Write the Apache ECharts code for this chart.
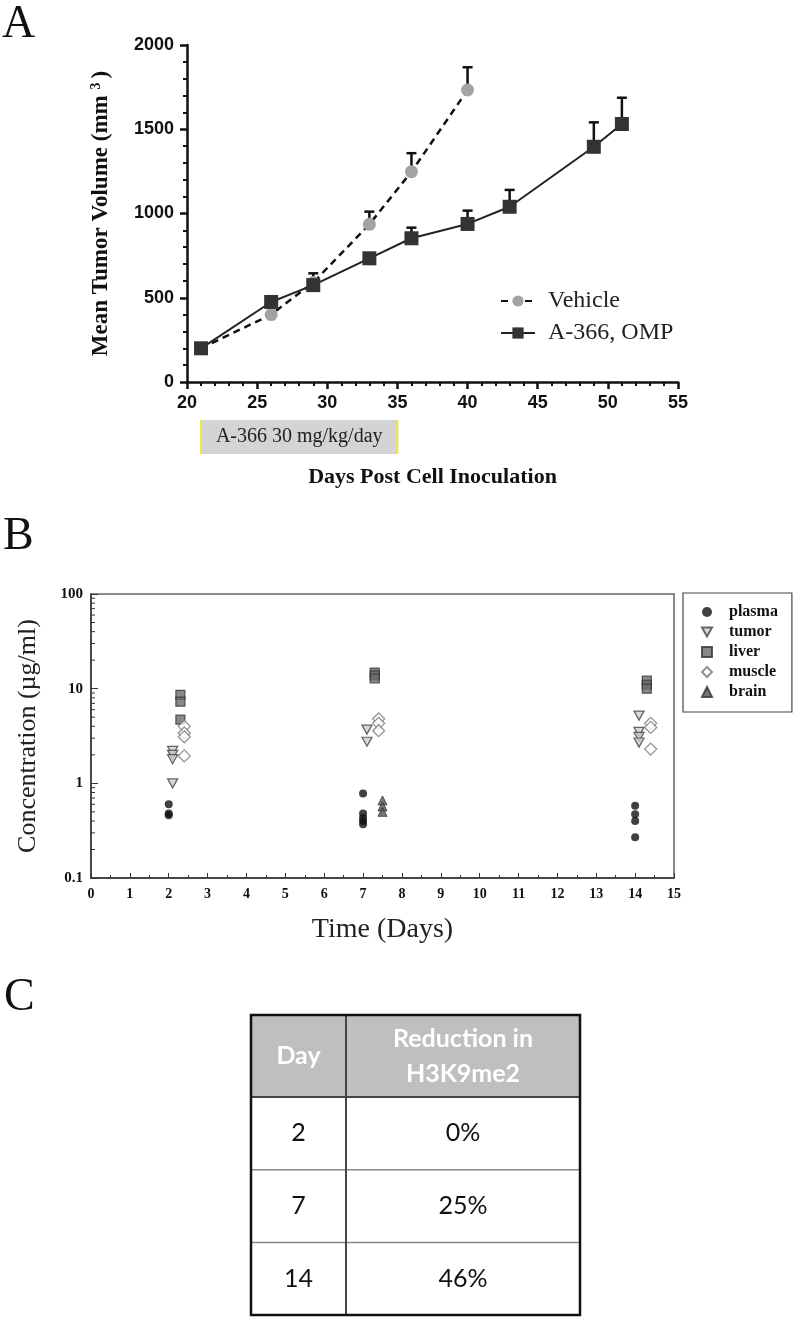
<!DOCTYPE html>
<html><head><meta charset="utf-8">
<script src="https://cdn.jsdelivr.net/npm/echarts@6/dist/echarts.min.js"></script>
<style>html,body{margin:0;padding:0;background:#fff}#c{width:798px;height:1321px}</style>
</head><body><div id="c"></div>
<script>
// ---------- Panel A data ----------
const daysVehicle = [21, 26, 29, 33, 36, 40];
const vehicleMean = [200, 400, 590, 936, 1248, 1733];
const vehicleErr  = [0, 0, 55, 75, 110, 135];
const daysA366 = [21, 26, 29, 33, 36, 40, 43, 49, 51];
const a366Mean = [200, 475, 575, 734, 853, 938, 1040, 1396, 1531];
const a366Err  = [0, 0, 0, 20, 63, 79, 100, 145, 156];
const seriesNamesA = ['Vehicle', 'A-366, OMP'];
const treatmentLabel = 'A-366 30 mg/kg/day';
const treatmentDays = [21, 35];

// ---------- Panel B data ----------
const tissueNames = ['plasma', 'tumor', 'liver', 'muscle', 'brain'];
const plasma = [[2,0.60],[2,0.48],[2,0.46],[7,0.78],[7,0.48],[7,0.43],[7,0.40],[7,0.37],[14,0.58],[14,0.47],[14,0.40],[14,0.27]];
const tumor  = [[2.1,2.2],[2.1,2.0],[2.1,1.8],[2.1,1.0],[7.1,3.7],[7.1,2.75],[14.1,5.2],[14.1,3.5],[14.1,3.1],[14.1,2.7]];
const liver  = [[2.3,8.6],[2.3,7.3],[2.3,4.7],[7.3,14.8],[7.3,13.8],[7.3,12.8],[14.3,12.2],[14.3,11.0],[14.3,10.0]];
const muscle = [[2.4,4.0],[2.4,3.4],[2.4,3.1],[2.4,1.95],[7.4,4.8],[7.4,4.3],[7.4,3.6],[14.4,4.3],[14.4,3.9],[14.4,2.3]];
const brain  = [[7.5,0.66],[7.5,0.57],[7.5,0.50]];
const logMinorTicks = [0.2,0.3,0.4,0.5,0.6,0.7,0.8,0.9,2,3,4,5,6,7,8,9,20,30,40,50,60,70,80,90];

// ---------- Panel C data ----------
const tableHeader = ['Day', 'Reduction in\nH3K9me2'];
const tableDays = ['2', '7', '14'];
const tableReduction = ['0%', '25%', '46%'];

const serif = '"Liberation Serif", "Times New Roman", serif';
const sans = '"Liberation Sans", Arial, sans-serif';
const invTriangle = 'path://M0,0 L10,0 L5,9 Z';

const chart = echarts.init(document.getElementById('c'), null, {renderer: 'canvas'});

function errRender(params, api) {
  const x = api.value(0), y = api.value(1), e = api.value(2);
  if (!e) return null;
  const p0 = api.coord([x, y]);
  const p1 = api.coord([x, y + e]);
  return {type: 'group', children: [
    {type: 'line', shape: {x1: p0[0], y1: p0[1], x2: p1[0], y2: p1[1]}, style: {stroke: '#111', lineWidth: 2.5}},
    {type: 'line', shape: {x1: p1[0]-5, y1: p1[1], x2: p1[0]+5, y2: p1[1]}, style: {stroke: '#111', lineWidth: 2.5}}
  ]};
}

function minorRender(params, api) {
  const p = api.coord([0, api.value(1)]);
  return {type: 'line', shape: {x1: p[0], y1: p[1], x2: p[0]+4, y2: p[1]}, style: {stroke: '#333', lineWidth: 1}};
}

const option = {
  animation: false,
  backgroundColor: '#fff',
  grid: [
    {left: 187, top: 45, width: 491, height: 337},
    {left: 91, top: 594, width: 583, height: 284, show: true, borderColor: '#666', borderWidth: 1.5}
  ],
  xAxis: [
    {gridIndex: 0, type: 'value', min: 20, max: 55, interval: 5,
     name: 'Days Post Cell Inoculation', nameLocation: 'middle', nameGap: 84,
     nameTextStyle: {fontFamily: serif, fontWeight: 'bold', fontSize: 22, color: '#111'},
     axisLine: {lineStyle: {color: '#111', width: 2.5}},
     axisTick: {length: 7, lineStyle: {color: '#111', width: 2.5}},
     minorTick: {show: true, splitNumber: 5, length: 4, lineStyle: {color: '#111', width: 2}},
     splitLine: {show: false},
     axisLabel: {fontFamily: sans, fontWeight: 'bold', fontSize: 18, color: '#111', margin: 12}},
    {gridIndex: 1, type: 'value', min: 0, max: 15, interval: 1,
     name: 'Time (Days)', nameLocation: 'middle', nameGap: 38,
     nameTextStyle: {fontFamily: serif, fontSize: 28, color: '#222'},
     axisLine: {lineStyle: {color: '#333', width: 1.5}},
     axisTick: {inside: true, length: 5, lineStyle: {color: '#333', width: 1}},
     minorTick: {show: true, splitNumber: 2, length: 3, lineStyle: {color: '#333', width: 1}},
     splitLine: {show: false},
     axisLabel: {fontFamily: serif, fontWeight: 'bold', fontSize: 14, color: '#111', margin: 9}}
  ],
  yAxis: [
    {gridIndex: 0, type: 'value', min: 0, max: 2000, interval: 500,
     name: '{a|Mean Tumor Volume (mm }{s|3}{a|)}', nameLocation: 'middle', nameGap: 74,
     nameTextStyle: {rich: {
       a: {fontFamily: serif, fontWeight: 'bold', fontSize: 23, color: '#111'},
       s: {fontFamily: serif, fontWeight: 'bold', fontSize: 14, color: '#111', verticalAlign: 'top', padding: [0, 4, 10, 0]}
     }},
     axisLine: {show: true, lineStyle: {color: '#111', width: 2.5}},
     axisTick: {show: true, length: 7, lineStyle: {color: '#111', width: 2.5}},
     minorTick: {show: true, splitNumber: 5, length: 4, lineStyle: {color: '#111', width: 2}},
     splitLine: {show: false},
     axisLabel: {fontFamily: sans, fontWeight: 'bold', fontSize: 18, color: '#111', margin: 13,
       formatter: v => String(v)}},
    {gridIndex: 1, type: 'log', logBase: 10, min: 0.1, max: 100,
     name: 'Concentration (µg/ml)', nameLocation: 'middle', nameGap: 50,
     nameTextStyle: {fontFamily: serif, fontSize: 26, color: '#222'},
     axisLine: {show: true, lineStyle: {color: '#333', width: 1.5}},
     axisTick: {show: true, inside: true, length: 7, lineStyle: {color: '#333', width: 1}},
     splitLine: {show: false},
     axisLabel: {fontFamily: serif, fontWeight: 'bold', fontSize: 15, color: '#111', margin: 8,
       formatter: v => String(+v.toPrecision(3))}}
  ],
  legend: [
    {data: seriesNamesA, orient: 'vertical', left: 495, top: 284, itemWidth: 34, itemHeight: 14, itemGap: 8,
     textStyle: {fontFamily: serif, fontSize: 24, color: '#222', padding: [0, 0, 0, 8]}},
    {data: tissueNames, orient: 'vertical', left: 683, top: 593, itemWidth: 10, itemHeight: 10, itemGap: 4,
     padding: [11, 14, 12, 18], borderColor: '#444', borderWidth: 1.2,
     textStyle: {fontFamily: serif, fontWeight: 'bold', fontSize: 16, color: '#111', padding: [0, 0, 0, 12]}}
  ],
  series: [
    {type: 'custom', name: 'errV', xAxisIndex: 0, yAxisIndex: 0, z: 1, renderItem: errRender,
     encode: {x: 0, y: 1}, data: daysVehicle.map((d, i) => [d, vehicleMean[i], vehicleErr[i]])},
    {type: 'custom', name: 'errA', xAxisIndex: 0, yAxisIndex: 0, z: 1, renderItem: errRender,
     encode: {x: 0, y: 1}, data: daysA366.map((d, i) => [d, a366Mean[i], a366Err[i]])},
    {type: 'line', name: seriesNamesA[0], xAxisIndex: 0, yAxisIndex: 0, z: 3,
     data: daysVehicle.map((d, i) => [d, vehicleMean[i]]),
     symbol: 'circle', symbolSize: 13, itemStyle: {color: '#a3a3a3'},
     lineStyle: {color: '#111', width: 2.5, type: [7, 5]}},
    {type: 'line', name: seriesNamesA[1], xAxisIndex: 0, yAxisIndex: 0, z: 4,
     data: daysA366.map((d, i) => [d, a366Mean[i]]),
     symbol: 'rect', symbolSize: 14, itemStyle: {color: '#333'},
     lineStyle: {color: '#222', width: 2}},
    {type: 'custom', name: 'minorTicksB', xAxisIndex: 1, yAxisIndex: 1, renderItem: minorRender,
     encode: {x: 0, y: 1}, data: logMinorTicks.map(v => [0, v]), silent: true},
    {type: 'scatter', name: 'plasma', xAxisIndex: 1, yAxisIndex: 1, data: plasma,
     symbol: 'circle', symbolSize: 8, itemStyle: {color: '#111'}},
    {type: 'scatter', name: 'tumor', xAxisIndex: 1, yAxisIndex: 1, data: tumor,
     symbol: invTriangle, symbolSize: [10, 9], itemStyle: {color: '#cfcfcf', borderColor: '#444', borderWidth: 1.3}},
    {type: 'scatter', name: 'liver', xAxisIndex: 1, yAxisIndex: 1, data: liver,
     symbol: 'rect', symbolSize: 9, itemStyle: {color: '#6c6c6c', borderColor: '#333', borderWidth: 1.2}},
    {type: 'scatter', name: 'muscle', xAxisIndex: 1, yAxisIndex: 1, data: muscle,
     symbol: 'diamond', symbolSize: 12, itemStyle: {color: '#fff', borderColor: '#777', borderWidth: 1.3}},
    {type: 'scatter', name: 'brain', xAxisIndex: 1, yAxisIndex: 1, data: brain,
     symbol: 'triangle', symbolSize: 9, itemStyle: {color: '#555', borderColor: '#333', borderWidth: 1}}
  ]
};
chart.setOption(option);

// ---------- graphics: panel letters, treatment bar, table ----------
const g = [];
const letter = (t, x, y) => ({type: 'text', left: x, top: y, style: {text: t, fontFamily: serif, fontSize: 46, fill: '#111'}});
g.push(letter('A', 2, 2), letter('B', 3, 514), letter('C', 4, 975));

const bx0 = chart.convertToPixel({xAxisIndex: 0}, treatmentDays[0]);
const bx1 = chart.convertToPixel({xAxisIndex: 0}, treatmentDays[1]);
g.push({type: 'rect', shape: {x: bx0, y: 420, width: bx1 - bx0, height: 34}, style: {fill: '#d4d4d4'}});
g.push({type: 'line', shape: {x1: bx0, y1: 420, x2: bx0, y2: 454}, style: {stroke: '#f2ea3a', lineWidth: 2}});
g.push({type: 'line', shape: {x1: bx1, y1: 420, x2: bx1, y2: 454}, style: {stroke: '#f2ea3a', lineWidth: 2}});
g.push({type: 'text', x: (bx0 + bx1) / 2, y: 437, style: {text: treatmentLabel, fontFamily: serif, fontSize: 20, fill: '#222', align: 'center', verticalAlign: 'middle'}});

// table
const tL = 251, tR = 580, tC = 346, tTop = 1015, hBot = 1097, rowH = 72.7;
const tBot = hBot + rowH * tableDays.length;
const tf = '"Lato", "Open Sans", sans-serif';
g.push({type: 'rect', shape: {x: tL, y: tTop, width: tR - tL, height: hBot - tTop}, style: {fill: '#bfbfbf'}});
g.push({type: 'text', x: (tL + tC) / 2, y: (tTop + hBot) / 2, style: {text: tableHeader[0], fontFamily: tf, fontWeight: 'bold', fontSize: 25, fill: '#fff', align: 'center', verticalAlign: 'middle'}});
g.push({type: 'text', x: (tC + tR) / 2, y: (tTop + hBot) / 2, style: {text: tableHeader[1], fontFamily: tf, fontWeight: 'bold', fontSize: 25, lineHeight: 35, fill: '#fff', align: 'center', verticalAlign: 'middle'}});
tableDays.forEach((d, i) => {
  const cy = hBot + rowH * (i + 0.5);
  g.push({type: 'text', x: (tL + tC) / 2, y: cy, style: {text: d, fontFamily: tf, fontSize: 25, fill: '#111', align: 'center', verticalAlign: 'middle'}});
  g.push({type: 'text', x: (tC + tR) / 2, y: cy, style: {text: tableReduction[i], fontFamily: tf, fontSize: 25, fill: '#111', align: 'center', verticalAlign: 'middle'}});
  if (i > 0) {
    const ly = hBot + rowH * i;
    g.push({type: 'line', shape: {x1: tL, y1: ly, x2: tR, y2: ly}, style: {stroke: '#888', lineWidth: 1.5}});
  }
});
g.push({type: 'line', shape: {x1: tL, y1: hBot, x2: tR, y2: hBot}, style: {stroke: '#444', lineWidth: 2}});
g.push({type: 'line', shape: {x1: tC, y1: tTop, x2: tC, y2: tBot}, style: {stroke: '#444', lineWidth: 2}});
g.push({type: 'rect', shape: {x: tL, y: tTop, width: tR - tL, height: tBot - tTop}, style: {fill: 'none', stroke: '#111', lineWidth: 2.5}});

chart.setOption({graphic: g});
</script>
</body></html>
